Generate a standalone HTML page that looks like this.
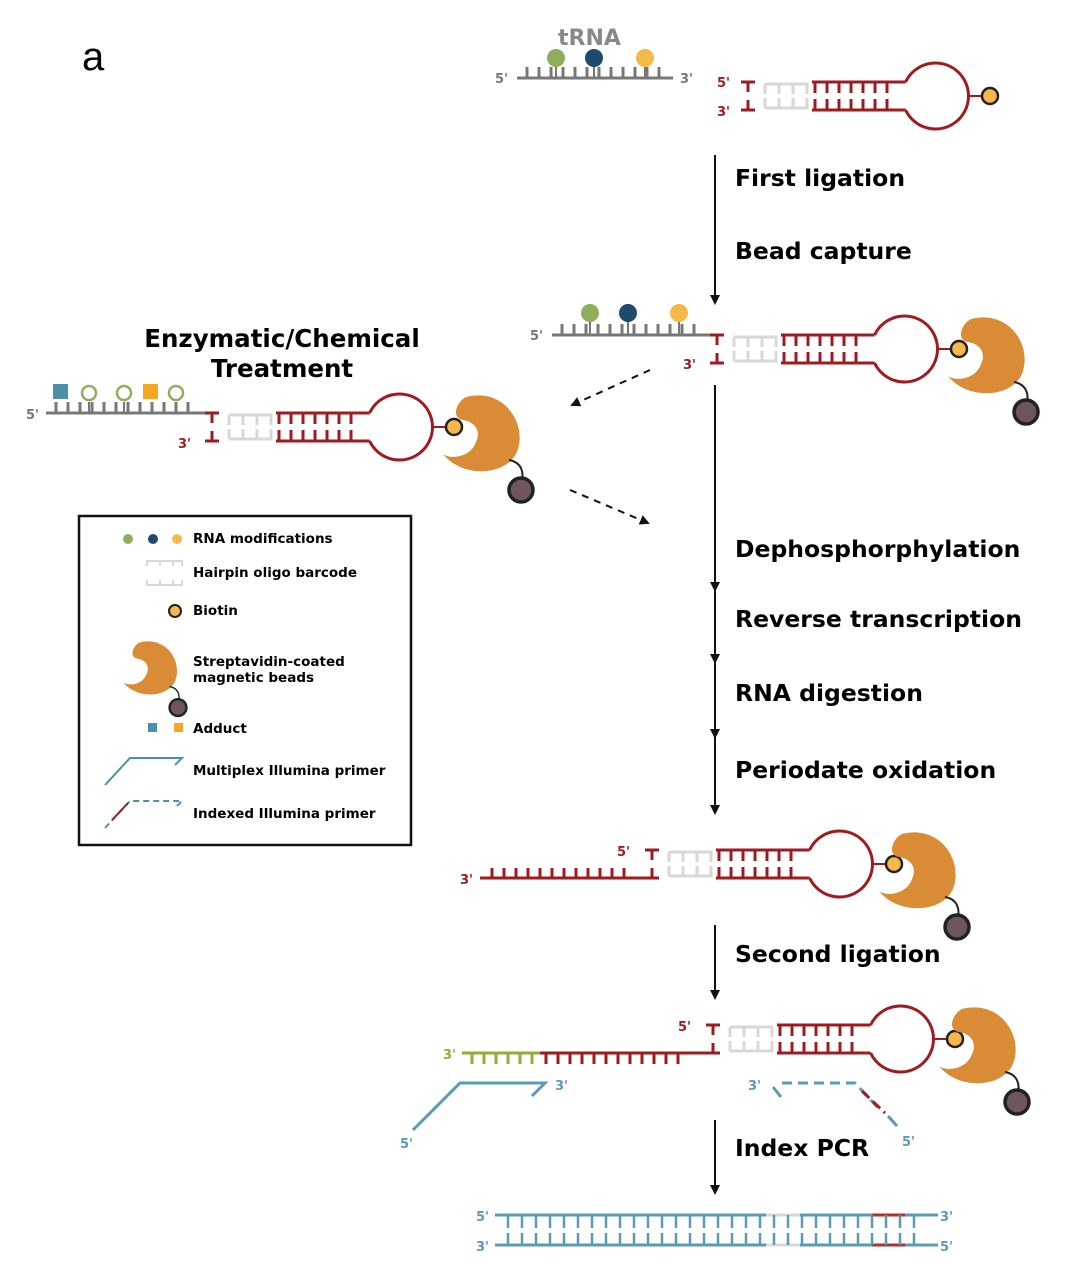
<!DOCTYPE html>
<html><head><meta charset="utf-8"><style>
html,body{margin:0;padding:0;background:#fff;}
svg{display:block;}
text{font-family:"DejaVu Sans","Liberation Sans",sans-serif;font-weight:bold;}
</style></head><body>
<svg width="1080" height="1281" viewBox="0 0 1080 1281" xmlns="http://www.w3.org/2000/svg">
<defs>
<g id="hp">
  <path d="M-7,0H7M0,0V10M-7,28H7M0,28V18" stroke="#9e1b20" stroke-width="3" fill="none"/>
  <path d="M17,2V12M17,2H31V12M31,2H45V12M45,2H59V12M17,26V16M17,26H31V16M31,26H45V16M45,26H59V16" stroke="#d8d8d4" stroke-width="3" fill="none"/>
  <path d="M64,0H157.6M64,28H157.6M67,0V11M79,0V11M91,0V11M103,0V11M115,0V11M127,0V11M139,0V11M67,28V17M79,28V17M91,28V17M103,28V17M115,28V17M127,28V17M139,28V17" stroke="#9e1b20" stroke-width="3" fill="none"/>
  <path d="M157.6,0A33,33 0 1 1 157.6,28" stroke="#9e1b20" stroke-width="3" fill="none"/>
  <path d="M220,14H236" stroke="#9e1b20" stroke-width="2"/>
  <circle cx="242" cy="14" r="8" fill="#f5b94a" stroke="#222" stroke-width="2.5"/>
</g>
<g id="bead">
  <path d="M-15,-35C25,-45 48,-5 35,22C22,45 -20,45 -38,22C-30,28 -10,25 -5,10C0,0 -5,-10 -18,-12C-30,-14 -25,-30 -15,-35Z" fill="#d98b35"/>
  <path d="M28,28C40,30 44,40 40,52" stroke="#222" stroke-width="2" fill="none"/>
  <circle cx="40" cy="58" r="12" fill="#6e5560" stroke="#222" stroke-width="3.5"/>
</g>
<marker id="ah" markerWidth="10" markerHeight="10" refX="8" refY="5" orient="auto" markerUnits="userSpaceOnUse"><path d="M0,0L10,5L0,10Z" fill="#111"/></marker>
</defs>

<text x="82" y="70" font-size="40" style="font-weight:normal;font-family:'Liberation Sans',sans-serif">a</text>

<!-- tRNA top -->
<text x="558" y="45" font-size="22" fill="#888">tRNA</text>
<text x="495" y="83" font-size="13" fill="#777">5'</text>
<text x="680" y="83" font-size="13" fill="#777">3'</text>
<path d="M517,78H673M527,78V67M539,78V67M551,78V67M563,78V67M575,78V67M587,78V67M599,78V67M611,78V67M623,78V67M635,78V67M647,78V67M659,78V67" stroke="#777" stroke-width="3" fill="none"/>
<path d="M556,78V60M594,78V60M645,78V60" stroke="#777" stroke-width="2"/>
<circle cx="556" cy="58" r="9" fill="#8fae5b"/><circle cx="594" cy="58" r="9" fill="#1e4a6b"/><circle cx="645" cy="58" r="9" fill="#f5b94a"/>
<use href="#hp" x="748" y="82"/>
<text x="717" y="87" font-size="13" fill="#9e1b20">5'</text>
<text x="717" y="116" font-size="13" fill="#9e1b20">3'</text>

<!-- arrow 1 -->
<path d="M715,155V303" stroke="#111" stroke-width="2" marker-end="url(#ah)"/>
<text x="735" y="186" font-size="23.5">First ligation</text>
<text x="735" y="259" font-size="23.5">Bead capture</text>

<!-- stage 2 -->
<text x="530" y="340" font-size="13" fill="#777">5'</text>
<path d="M552,335H717M562,335V324M574,335V324M586,335V324M598,335V324M610,335V324M622,335V324M634,335V324M646,335V324M658,335V324M670,335V324M682,335V324M694,335V324" stroke="#777" stroke-width="3" fill="none"/>
<path d="M590,335V317M628,335V317M679,335V317" stroke="#777" stroke-width="2"/>
<circle cx="590" cy="313" r="9" fill="#8fae5b"/><circle cx="628" cy="313" r="9" fill="#1e4a6b"/><circle cx="679" cy="313" r="9" fill="#f5b94a"/>
<use href="#hp" x="717" y="335"/>
<text x="683" y="369" font-size="13" fill="#9e1b20">3'</text>
<use href="#bead" x="986" y="354"/>

<!-- treatment -->
<text x="282" y="347" font-size="24.5" text-anchor="middle">Enzymatic/Chemical</text>
<text x="282" y="377" font-size="24.5" text-anchor="middle">Treatment</text>
<text x="26" y="419" font-size="13" fill="#777">5'</text>
<path d="M46,413H212M56,413V402M68,413V402M80,413V402M92,413V402M104,413V402M116,413V402M128,413V402M140,413V402M152,413V402M164,413V402M176,413V402M188,413V402" stroke="#777" stroke-width="3" fill="none"/>
<path d="M89,413V402M124,413V402M176,413V402" stroke="#777" stroke-width="2"/>
<rect x="53" y="384" width="15" height="15" fill="#4a90a8"/>
<circle cx="89" cy="393" r="7" fill="#fff" stroke="#8fae5b" stroke-width="2.5"/>
<circle cx="124" cy="393" r="7" fill="#fff" stroke="#8fae5b" stroke-width="2.5"/>
<rect x="143" y="384" width="15" height="15" fill="#f5a623"/>
<circle cx="176" cy="393" r="7" fill="#fff" stroke="#8fae5b" stroke-width="2.5"/>
<use href="#hp" x="212" y="413"/>
<text x="178" y="448" font-size="13" fill="#9e1b20">3'</text>
<use href="#bead" x="481" y="432"/>

<path d="M650,370L572,405" stroke="#111" stroke-width="2" stroke-dasharray="7,6" marker-end="url(#ah)"/>
<path d="M570,490L648,523" stroke="#111" stroke-width="2" stroke-dasharray="7,6" marker-end="url(#ah)"/>

<!-- long arrow -->
<path d="M715,385V590" stroke="#111" stroke-width="2" marker-end="url(#ah)"/>
<path d="M715,590V662" stroke="#111" stroke-width="2" marker-end="url(#ah)"/>
<path d="M715,662V737" stroke="#111" stroke-width="2" marker-end="url(#ah)"/>
<path d="M715,737V813" stroke="#111" stroke-width="2" marker-end="url(#ah)"/>
<text x="735" y="557" font-size="23.5">Dephosphorphylation</text>
<text x="735" y="627" font-size="23.5">Reverse transcription</text>
<text x="735" y="701" font-size="23.5">RNA digestion</text>
<text x="735" y="778" font-size="23.5">Periodate oxidation</text>

<!-- legend -->
<rect x="79" y="516" width="332" height="329" fill="none" stroke="#111" stroke-width="2.5"/>
<circle cx="128" cy="539" r="5" fill="#8fae5b"/><circle cx="153" cy="539" r="5" fill="#1e4a6b"/><circle cx="177" cy="539" r="5" fill="#f5b94a"/>
<text x="193" y="543" font-size="13.5">RNA modifications</text>
<path d="M147,566V561H160V566M160,561H173V566M173,561H182V566M147,580V585H160V580M160,585H173V580M173,585H182V580" stroke="#d8d8d4" stroke-width="2" fill="none"/>
<text x="193" y="577" font-size="13.5">Hairpin oligo barcode</text>
<circle cx="175" cy="611" r="6" fill="#f5b94a" stroke="#222" stroke-width="2"/>
<text x="193" y="615" font-size="13.5">Biotin</text>
<g transform="translate(150,667) scale(0.7)"><use href="#bead"/></g>
<text x="193" y="666" font-size="13.5">Streptavidin-coated</text>
<text x="193" y="682" font-size="13.5">magnetic beads</text>
<rect x="148" y="723" width="9" height="9" fill="#4a90a8"/><rect x="174" y="723" width="9" height="9" fill="#f5a623"/>
<text x="193" y="733" font-size="13.5">Adduct</text>
<path d="M105,785L130,758H182L175,765" stroke="#4a90a8" stroke-width="2" fill="none"/>
<text x="193" y="775" font-size="13.5">Multiplex Illumina primer</text>
<path d="M105,828L130,801H182L175,808" stroke="#4a90a8" stroke-width="2" fill="none" stroke-dasharray="6,4"/>
<path d="M112,820L128,803" stroke="#9e1b20" stroke-width="2"/>
<text x="193" y="818" font-size="13.5">Indexed Illumina primer</text>

<!-- stage 3 -->
<use href="#hp" x="652" y="850"/>
<text x="617" y="856" font-size="13" fill="#9e1b20">5'</text>
<text x="460" y="884" font-size="13" fill="#9e1b20">3'</text>
<path d="M480,878H652M492,878V868M504,878V868M516,878V868M528,878V868M540,878V868M552,878V868M564,878V868M576,878V868M588,878V868M600,878V868M612,878V868M624,878V868" stroke="#9e1b20" stroke-width="3" fill="none"/>
<use href="#bead" x="917" y="869"/>

<path d="M715,925V998" stroke="#111" stroke-width="2" marker-end="url(#ah)"/>
<text x="735" y="962" font-size="23.5">Second ligation</text>

<!-- stage 4 -->
<use href="#hp" x="713" y="1025"/>
<text x="678" y="1031" font-size="13" fill="#9e1b20">5'</text>
<text x="443" y="1059" font-size="13" fill="#8fae3b">3'</text>
<path d="M462,1053H540M472,1053V1064M484,1053V1064M496,1053V1064M508,1053V1064M520,1053V1064M532,1053V1064" stroke="#8fae3b" stroke-width="3" fill="none"/>
<path d="M540,1053H713M546,1053V1064M558,1053V1064M570,1053V1064M582,1053V1064M594,1053V1064M606,1053V1064M618,1053V1064M630,1053V1064M642,1053V1064M654,1053V1064M666,1053V1064M678,1053V1064" stroke="#9e1b20" stroke-width="3" fill="none"/>
<use href="#bead" x="977" y="1044"/>
<path d="M413,1130L460,1083H545L532,1096" stroke="#5a9ab5" stroke-width="3" fill="none"/>
<text x="555" y="1090" font-size="13" fill="#5a9ab5">3'</text>
<text x="400" y="1148" font-size="13" fill="#5a9ab5">5'</text>
<path d="M782,1083H855L880,1110" stroke="#5a9ab5" stroke-width="3" fill="none" stroke-dasharray="10,6"/>
<path d="M862,1091L885,1113" stroke="#9e1b20" stroke-width="3" stroke-dasharray="10,5"/>
<path d="M888,1116L897,1126" stroke="#5a9ab5" stroke-width="3"/>
<path d="M773,1087L781,1097" stroke="#5a9ab5" stroke-width="3"/>
<text x="748" y="1090" font-size="13" fill="#5a9ab5">3'</text>
<text x="902" y="1146" font-size="13" fill="#5a9ab5">5'</text>

<path d="M715,1120V1193" stroke="#111" stroke-width="2" marker-end="url(#ah)"/>
<text x="735" y="1156" font-size="23.5">Index PCR</text>

<!-- final duplex -->
<text x="476" y="1221" font-size="13" fill="#5a9ab5">5'</text>
<text x="940" y="1221" font-size="13" fill="#5a9ab5">3'</text>
<text x="476" y="1251" font-size="13" fill="#5a9ab5">3'</text>
<text x="940" y="1251" font-size="13" fill="#5a9ab5">5'</text>
<path d="M495,1215H938M495,1245H938" stroke="#5a9ab5" stroke-width="3"/>
<path d="M766,1215H800M766,1245H800" stroke="#d8d8d4" stroke-width="3"/>
<path d="M872,1215H905M872,1245H905" stroke="#b0302a" stroke-width="3"/>
<g stroke="#5a9ab5" stroke-width="2.5">
<path d="M508,1215V1228M522,1215V1228M536,1215V1228M550,1215V1228M564,1215V1228M578,1215V1228M592,1215V1228M606,1215V1228M620,1215V1228M634,1215V1228M648,1215V1228M662,1215V1228M676,1215V1228M690,1215V1228M704,1215V1228M718,1215V1228M732,1215V1228M746,1215V1228M760,1215V1228M774,1215V1228M788,1215V1228M802,1215V1228M816,1215V1228M830,1215V1228M844,1215V1228M858,1215V1228M872,1215V1228M886,1215V1228M900,1215V1228M914,1215V1228"/>
<path d="M508,1245V1233M522,1245V1233M536,1245V1233M550,1245V1233M564,1245V1233M578,1245V1233M592,1245V1233M606,1245V1233M620,1245V1233M634,1245V1233M648,1245V1233M662,1245V1233M676,1245V1233M690,1245V1233M704,1245V1233M718,1245V1233M732,1245V1233M746,1245V1233M760,1245V1233M774,1245V1233M788,1245V1233M802,1245V1233M816,1245V1233M830,1245V1233M844,1245V1233M858,1245V1233M872,1245V1233M886,1245V1233M900,1245V1233M914,1245V1233"/>
</g>
</svg>
</body></html>
